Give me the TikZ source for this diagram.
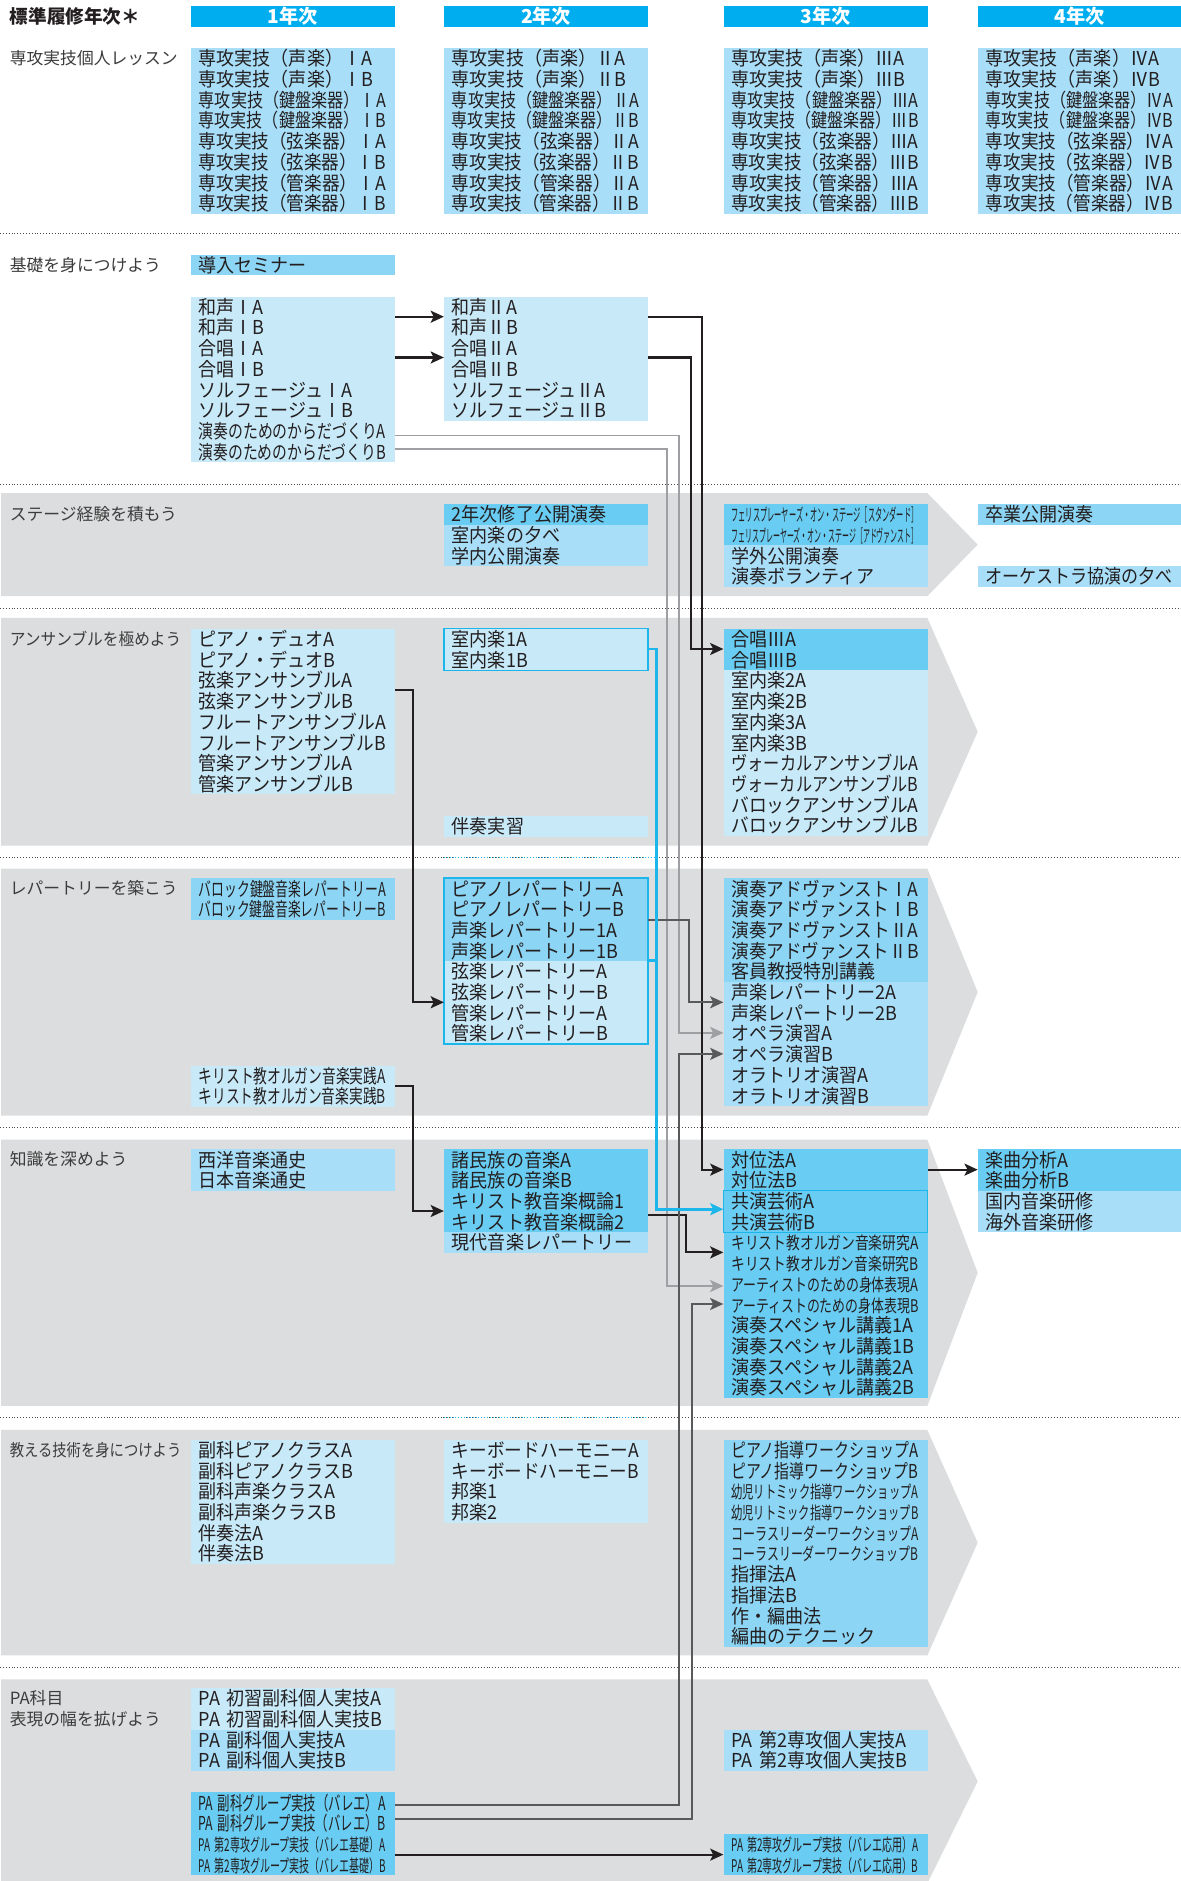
\documentclass[tikz,border=0pt]{standalone}
\usepackage{fontspec}
\usepackage{graphicx}
\usetikzlibrary{arrows.meta}
\newfontfamily\jpN[FakeStretch=0.94]{Noto Sans CJK JP}
\newfontfamily\jpG{Noto Sans CJK JP}
\definecolor{cP}{HTML}{C8E9F8}
\definecolor{cL}{HTML}{A8DEF8}
\definecolor{cM}{HTML}{8CD5F4}
\definecolor{cS}{HTML}{69CDF3}
\definecolor{cHead}{HTML}{00AEEF}
\definecolor{cBand}{HTML}{DCDDDE}
\definecolor{cCyan}{HTML}{1DB6EA}
\definecolor{cDark}{HTML}{231F20}
\definecolor{cGrayD}{HTML}{58595B}
\definecolor{cGrayL}{HTML}{9D9FA2}
\definecolor{cText}{HTML}{231F20}
\definecolor{cLabel}{HTML}{3C3C3C}
\definecolor{cDot}{HTML}{4D4D4D}
\newlength\maxw
\setlength\maxw{156pt}
\newsavebox\lnbox
\newcommand\fitto[2]{\sbox\lnbox{#2}\ifdim\wd\lnbox>#1\relax\resizebox{#1}{\ht\lnbox}{\usebox\lnbox}\else\usebox\lnbox\fi}
\newcommand\ls{\rule[-2.5pt]{0pt}{17.25pt}}
\newcommand\rw[1]{\ls\fitto{\maxw}{#1}}
\newcommand\rws[1]{\ls\fitto{\maxw}{\fontsize{14.5}{17.25}\selectfont #1}}
\newcommand\lb[1]{\fitto{143pt}{#1}}
\tikzset{
  cbox/.style={anchor=north west, inner xsep=6.5pt, inner ysep=0pt, text width=157pt, minimum width=170pt, align=left, font=\jpN\fontsize{16}{17.25}\selectfont, text=cText},
  lbl/.style={anchor=west, inner sep=0pt, font=\jpG\fontsize{14}{16}\selectfont, text=cLabel},
  hd/.style={anchor=north west, minimum width=170pt, minimum height=17pt, inner sep=0pt, fill=cHead, text=white, font=\jpG\bfseries\fontsize{16}{17}\selectfont},
  sepline/.style={draw=cDot, line width=0.8pt, dash pattern=on 0.8pt off 1.6pt},
  sepcyan/.style={draw=cCyan, line width=0.8pt, dash pattern=on 0.8pt off 1.6pt},
  tipK/.tip={Stealth[length=11pt,width=10pt,inset=2.5pt]},
  lnK/.style={draw=cDark, line width=1.8pt, -{tipK}},
  lnD/.style={draw=cGrayD, line width=1.6pt, -{tipK}},
  lnL/.style={draw=cGrayL, line width=1.5pt, -{tipK}},
  lnC/.style={draw=cCyan, line width=2.4pt, -{tipK}},
  lnCp/.style={draw=cCyan, line width=2.4pt},
  bdr/.style={draw=cCyan, line width=1.4pt},
  bandfill/.style={fill=cBand}
}
\begin{document}
\begin{tikzpicture}[x=1pt,y=-1pt]
\useasboundingbox (0,0) rectangle (984,1568);
\fill[white] (0,0) rectangle (984,1568);

% bands
\fill[bandfill] (1,411) -- (773,411) -- (815,454) -- (773,497) -- (1,497) -- cycle;
\fill[bandfill] (1,515) -- (773,515) -- (815,610) -- (773,705) -- (1,705) -- cycle;
\fill[bandfill] (1,724) -- (773,724) -- (815,827) -- (773,930) -- (1,930) -- cycle;
\fill[bandfill] (1,950) -- (773,950) -- (815,1061) -- (773,1172) -- (1,1172) -- cycle;
\fill[bandfill] (1,1192) -- (773,1192) -- (815,1286) -- (773,1380) -- (1,1380) -- cycle;
\fill[bandfill] (1,1400) -- (773,1400) -- (815,1485) -- (773,1570) -- (1,1570) -- cycle;

% separators
\foreach \yy in {195,404,507,715,940,1182,1390} \draw[sepline] (0,\yy) -- (984,\yy);
\draw[sepcyan] (370,715) -- (547,715);
\draw[sepcyan] (370,1182) -- (540,1182);

% header
\node[anchor=west, inner sep=0pt, font=\jpG\bfseries\fontsize{15.5}{17}\selectfont, text=cText] (title) at (8,13.5) {標準履修年次＊};
\node[hd] (h1) at (159,5) {1年次};
\node[hd] (h2) at (370,5) {2年次};
\node[hd] (h3) at (603,5) {3年次};
\node[hd] (h4) at (815,5) {4年次};

% labels
\node[lbl] (l0) at (8,48.6) {\lb{専攻実技個人レッスン}};
\node[lbl] (l1) at (8,220.6) {\lb{基礎を身につけよう}};
\node[lbl] (l2) at (8,428.6) {\lb{ステージ経験を積もう}};
\node[lbl] (l3) at (8,532.6) {\lb{アンサンブルを極めよう}};
\node[lbl] (l4) at (8,740.6) {\lb{レパートリーを築こう}};
\node[lbl] (l5) at (8,966.6) {\lb{知識を深めよう}};
\node[lbl] (l6) at (8,1208.6) {\lb{教える技術を身につけよう}};
\node[lbl] (l7a) at (8,1415.6) {\lb{PA科目}};
\node[lbl] (l7b) at (8,1432.9) {\lb{表現の幅を拡げよう}};

% section 0
\node[cbox,fill=cL,minimum height=138pt] (sen1) at (159,40) {\rw{専攻実技（声楽）ⅠA}\\ \rw{専攻実技（声楽）ⅠB}\\ \rw{専攻実技（鍵盤楽器）ⅠA}\\ \rw{専攻実技（鍵盤楽器）ⅠB}\\ \rw{専攻実技（弦楽器）ⅠA}\\ \rw{専攻実技（弦楽器）ⅠB}\\ \rw{専攻実技（管楽器）ⅠA}\\ \rw{専攻実技（管楽器）ⅠB}};
\node[cbox,fill=cL,minimum height=138pt] (sen2) at (370,40) {\rw{専攻実技（声楽）ⅡA}\\ \rw{専攻実技（声楽）ⅡB}\\ \rw{専攻実技（鍵盤楽器）ⅡA}\\ \rw{専攻実技（鍵盤楽器）ⅡB}\\ \rw{専攻実技（弦楽器）ⅡA}\\ \rw{専攻実技（弦楽器）ⅡB}\\ \rw{専攻実技（管楽器）ⅡA}\\ \rw{専攻実技（管楽器）ⅡB}};
\node[cbox,fill=cL,minimum height=138pt] (sen3) at (603,40) {\rw{専攻実技（声楽）ⅢA}\\ \rw{専攻実技（声楽）ⅢB}\\ \rw{専攻実技（鍵盤楽器）ⅢA}\\ \rw{専攻実技（鍵盤楽器）ⅢB}\\ \rw{専攻実技（弦楽器）ⅢA}\\ \rw{専攻実技（弦楽器）ⅢB}\\ \rw{専攻実技（管楽器）ⅢA}\\ \rw{専攻実技（管楽器）ⅢB}};
\node[cbox,fill=cL,minimum height=138pt] (sen4) at (815,40) {\rw{専攻実技（声楽）ⅣA}\\ \rw{専攻実技（声楽）ⅣB}\\ \rw{専攻実技（鍵盤楽器）ⅣA}\\ \rw{専攻実技（鍵盤楽器）ⅣB}\\ \rw{専攻実技（弦楽器）ⅣA}\\ \rw{専攻実技（弦楽器）ⅣB}\\ \rw{専攻実技（管楽器）ⅣA}\\ \rw{専攻実技（管楽器）ⅣB}};

% section 1
\node[cbox,fill=cM,minimum height=17.25pt] (dou) at (159,212) {\rw{導入セミナー}};
\node[cbox,fill=cP,minimum height=138pt] (kiso1) at (159,247) {\rw{和声ⅠA}\\ \rw{和声ⅠB}\\ \rw{合唱ⅠA}\\ \rw{合唱ⅠB}\\ \rw{ソルフェージュⅠA}\\ \rw{ソルフェージュⅠB}\\ \rw{演奏のためのからだづくりA}\\ \rw{演奏のためのからだづくりB}};
\node[cbox,fill=cP,minimum height=103.5pt] (kiso2) at (370,247) {\rw{和声ⅡA}\\ \rw{和声ⅡB}\\ \rw{合唱ⅡA}\\ \rw{合唱ⅡB}\\ \rw{ソルフェージュⅡA}\\ \rw{ソルフェージュⅡB}};

% section 2
\node[cbox,fill=cS,minimum height=17.25pt] (st2a) at (370,420) {\rw{2年次修了公開演奏}};
\node[cbox,fill=cL,minimum height=34.5pt] (st2b) at (370,437.25) {\rw{室内楽の夕べ}\\ \rw{学内公開演奏}};
\node[cbox,fill=cS,minimum height=34.5pt] (st3a) at (603,420) {\rws{フェリスプレーヤーズ・オン・ステージ［スタンダード］}\\ \rws{フェリスプレーヤーズ・オン・ステージ［アドヴァンスト］}};
\node[cbox,fill=cL,minimum height=34.5pt] (st3b) at (603,454.5) {\rw{学外公開演奏}\\ \rw{演奏ボランティア}};
\node[cbox,fill=cM,minimum height=17.25pt] (st4a) at (815,420) {\rw{卒業公開演奏}};
\node[cbox,fill=cL,minimum height=17.25pt] (st4b) at (815,471.75) {\rw{オーケストラ協演の夕べ}};

% section 3
\node[cbox,fill=cP,minimum height=138pt] (ens1) at (159,524) {\rw{ピアノ・デュオA}\\ \rw{ピアノ・デュオB}\\ \rw{弦楽アンサンブルA}\\ \rw{弦楽アンサンブルB}\\ \rw{フルートアンサンブルA}\\ \rw{フルートアンサンブルB}\\ \rw{管楽アンサンブルA}\\ \rw{管楽アンサンブルB}};
\node[cbox,fill=cP,minimum height=34.5pt] (sit1) at (370,524) {\rw{室内楽1A}\\ \rw{室内楽1B}};
\node[cbox,fill=cP,minimum height=17.25pt] (ban2) at (370,680) {\rw{伴奏実習}};
\node[cbox,fill=cS,minimum height=34.5pt] (gas3) at (603,524) {\rw{合唱ⅢA}\\ \rw{合唱ⅢB}};
\node[cbox,fill=cP,minimum height=138pt] (sit3) at (603,558.5) {\rw{室内楽2A}\\ \rw{室内楽2B}\\ \rw{室内楽3A}\\ \rw{室内楽3B}\\ \rw{ヴォーカルアンサンブルA}\\ \rw{ヴォーカルアンサンブルB}\\ \rw{バロックアンサンブルA}\\ \rw{バロックアンサンブルB}};

% section 4
\node[cbox,fill=cM,minimum height=34.5pt] (bar1) at (159,732) {\rw{バロック鍵盤音楽レパートリーA}\\ \rw{バロック鍵盤音楽レパートリーB}};
\node[cbox,fill=cP,minimum height=34.5pt] (org1) at (159,888) {\rw{キリスト教オルガン音楽実践A}\\ \rw{キリスト教オルガン音楽実践B}};
\node[cbox,fill=cM,minimum height=69pt] (rep2a) at (370,732) {\rw{ピアノレパートリーA}\\ \rw{ピアノレパートリーB}\\ \rw{声楽レパートリー1A}\\ \rw{声楽レパートリー1B}};
\node[cbox,fill=cP,minimum height=69pt] (rep2b) at (370,801) {\rw{弦楽レパートリーA}\\ \rw{弦楽レパートリーB}\\ \rw{管楽レパートリーA}\\ \rw{管楽レパートリーB}};
\node[cbox,fill=cM,minimum height=86.25pt] (rep3a) at (603,732) {\rw{演奏アドヴァンストⅠA}\\ \rw{演奏アドヴァンストⅠB}\\ \rw{演奏アドヴァンストⅡA}\\ \rw{演奏アドヴァンストⅡB}\\ \rw{客員教授特別講義}};
\node[cbox,fill=cL,minimum height=103.5pt] (rep3b) at (603,818.25) {\rw{声楽レパートリー2A}\\ \rw{声楽レパートリー2B}\\ \rw{オペラ演習A}\\ \rw{オペラ演習B}\\ \rw{オラトリオ演習A}\\ \rw{オラトリオ演習B}};

% section 5
\node[cbox,fill=cL,minimum height=34.5pt] (chi1) at (159,958) {\rw{西洋音楽通史}\\ \rw{日本音楽通史}};
\node[cbox,fill=cS,minimum height=69pt] (chi2a) at (370,958) {\rw{諸民族の音楽A}\\ \rw{諸民族の音楽B}\\ \rw{キリスト教音楽概論1}\\ \rw{キリスト教音楽概論2}};
\node[cbox,fill=cL,minimum height=17.25pt] (chi2b) at (370,1027) {\rw{現代音楽レパートリー}};
\node[cbox,fill=cS,minimum height=34.5pt] (tai) at (603,958) {\rw{対位法A}\\ \rw{対位法B}};
\node[cbox,fill=cS,minimum height=34.5pt] (kyo) at (603,992.5) {\rw{共演芸術A}\\ \rw{共演芸術B}};
\node[cbox,fill=cS,minimum height=138pt] (ken3r) at (603,1027) {\rws{キリスト教オルガン音楽研究A}\\ \rws{キリスト教オルガン音楽研究B}\\ \rws{アーティストのための身体表現A}\\ \rws{アーティストのための身体表現B}\\ \rw{演奏スペシャル講義1A}\\ \rw{演奏スペシャル講義1B}\\ \rw{演奏スペシャル講義2A}\\ \rw{演奏スペシャル講義2B}};
\node[cbox,fill=cS,minimum height=34.5pt] (gak4a) at (815,958) {\rw{楽曲分析A}\\ \rw{楽曲分析B}};
\node[cbox,fill=cL,minimum height=34.5pt] (gak4b) at (815,992.5) {\rw{国内音楽研修}\\ \rw{海外音楽研修}};

% section 6
\node[cbox,fill=cP,minimum height=103.5pt] (osh1) at (159,1200) {\rw{副科ピアノクラスA}\\ \rw{副科ピアノクラスB}\\ \rw{副科声楽クラスA}\\ \rw{副科声楽クラスB}\\ \rw{伴奏法A}\\ \rw{伴奏法B}};
\node[cbox,fill=cP,minimum height=69pt] (osh2) at (370,1200) {\rw{キーボードハーモニーA}\\ \rw{キーボードハーモニーB}\\ \rw{邦楽1}\\ \rw{邦楽2}};
\node[cbox,fill=cM,minimum height=172.5pt] (osh3) at (603,1200) {\rw{ピアノ指導ワークショップA}\\ \rw{ピアノ指導ワークショップB}\\ \rws{幼児リトミック指導ワークショップA}\\ \rws{幼児リトミック指導ワークショップB}\\ \rws{コーラスリーダーワークショップA}\\ \rws{コーラスリーダーワークショップB}\\ \rw{指揮法A}\\ \rw{指揮法B}\\ \rw{作・編曲法}\\ \rw{編曲のテクニック}};

% section 7
\node[cbox,fill=cP,minimum height=34.5pt] (pa1a) at (159,1407) {\rw{PA 初習副科個人実技A}\\ \rw{PA 初習副科個人実技B}};
\node[cbox,fill=cL,minimum height=34.5pt] (pa1b) at (159,1441.5) {\rw{PA 副科個人実技A}\\ \rw{PA 副科個人実技B}};
\node[cbox,fill=cS,minimum height=69pt] (pag) at (159,1494) {\rw{PA 副科グループ実技（バレエ）A}\\ \rw{PA 副科グループ実技（バレエ）B}\\ \rws{PA 第2専攻グループ実技（バレエ基礎）A}\\ \rws{PA 第2専攻グループ実技（バレエ基礎）B}};
\node[cbox,fill=cL,minimum height=34.5pt] (pa3a) at (603,1441.5) {\rw{PA 第2専攻個人実技A}\\ \rw{PA 第2専攻個人実技B}};
\node[cbox,fill=cS,minimum height=34.5pt] (pa3b) at (603,1528.5) {\rws{PA 第2専攻グループ実技（バレエ応用）A}\\ \rws{PA 第2専攻グループ実技（バレエ応用）B}};

% borders
\draw[bdr] (sit1.north west) rectangle (sit1.south east);
\draw[bdr] (rep2a.north west) rectangle (rep2b.south east);
\draw[bdr, line width=1.1pt] (kyo.north west) rectangle (kyo.south east);

% routing coordinates
\coordinate (yWa) at (0,264);
\coordinate (yGa) at (0,298);
\coordinate (yKaA) at (0,363);
\coordinate (yKaB) at (0,374);
\coordinate (yGa3) at (0,541);
\coordinate (yGen) at (0,575.5);
\coordinate (yPr) at (0,767);
\coordinate (yCy2) at (0,801);
\coordinate (yGenR) at (0,835.5);
\coordinate (ySei2) at (0,835.5);
\coordinate (yOpA) at (0,861);
\coordinate (yOpB) at (0,878.5);
\coordinate (yOrg) at (0,905);
\coordinate (yTai) at (0,975);
\coordinate (yKyo) at (0,1008);
\coordinate (yShoz) at (0,1009.5);
\coordinate (yGai2) at (0,1013);
\coordinate (yOrgK) at (0,1044);
\coordinate (yShA) at (0,1072);
\coordinate (yShB) at (0,1087);
\coordinate (yPaA) at (0,1505);
\coordinate (yPaB) at (0,1516);
\coordinate (yBal) at (0,1546);
\coordinate (xK1) at (585,0);
\coordinate (xK2) at (576,0);
\coordinate (xL1) at (566,0);
\coordinate (xL2) at (556,0);
\coordinate (xC) at (547,0);
\coordinate (xD) at (574,0);
\coordinate (xA) at (344,0);
\coordinate (xK3) at (572,0);
\coordinate (xD3) at (577,0);

% connectors
\draw[lnK] (kiso1.east |- yWa) -- (kiso2.west |- yWa);
\draw[lnK] (kiso1.east |- yGa) -- (kiso2.west |- yGa);
\draw[lnL] (kiso1.east |- yKaA) -| (xL1 |- yOpA) -- (rep3b.west |- yOpA);
\draw[lnL] (kiso1.east |- yKaB) -| (xL2 |- yShA) -- (ken3r.west |- yShA);
\draw[lnK] (kiso2.east |- yWa) -| (xK1 |- yTai) -- (tai.west |- yTai);
\draw[lnK] (kiso2.east |- yGa) -| (xK2 |- yGa3) -- (gas3.west |- yGa3);
\draw[lnK] (ens1.east |- yGen) -| (xA |- yGenR) -- (rep2b.west |- yGenR);
\draw[lnD] (rep2a.east |- yPr) -| (xD |- ySei2) -- (rep3b.west |- ySei2);
\draw[lnK] (org1.east |- yOrg) -| (xA |- yShoz) -- (chi2a.west |- yShoz);
\draw[lnK] (chi2a.east |- yGai2) -| (xK3 |- yOrgK) -- (ken3r.west |- yOrgK);
\draw[lnK] (tai.east |- yTai) -- (gak4a.west |- yTai);
\draw[lnD] (pag.east |- yPaA) -| (xL1 |- yOpB) -- (rep3b.west |- yOpB);
\draw[lnD] (pag.east |- yPaB) -| (xD3 |- yShB) -- (ken3r.west |- yShB);
\draw[lnK] (pag.east |- yBal) -- (pa3b.west |- yBal);
\draw[lnC] (sit1.east |- yGa3) -| (xC |- yKyo) -- (kyo.west |- yKyo);
\draw[lnCp] (rep2a.east |- yCy2) -- (xC |- yCy2);
\end{tikzpicture}
\end{document}
